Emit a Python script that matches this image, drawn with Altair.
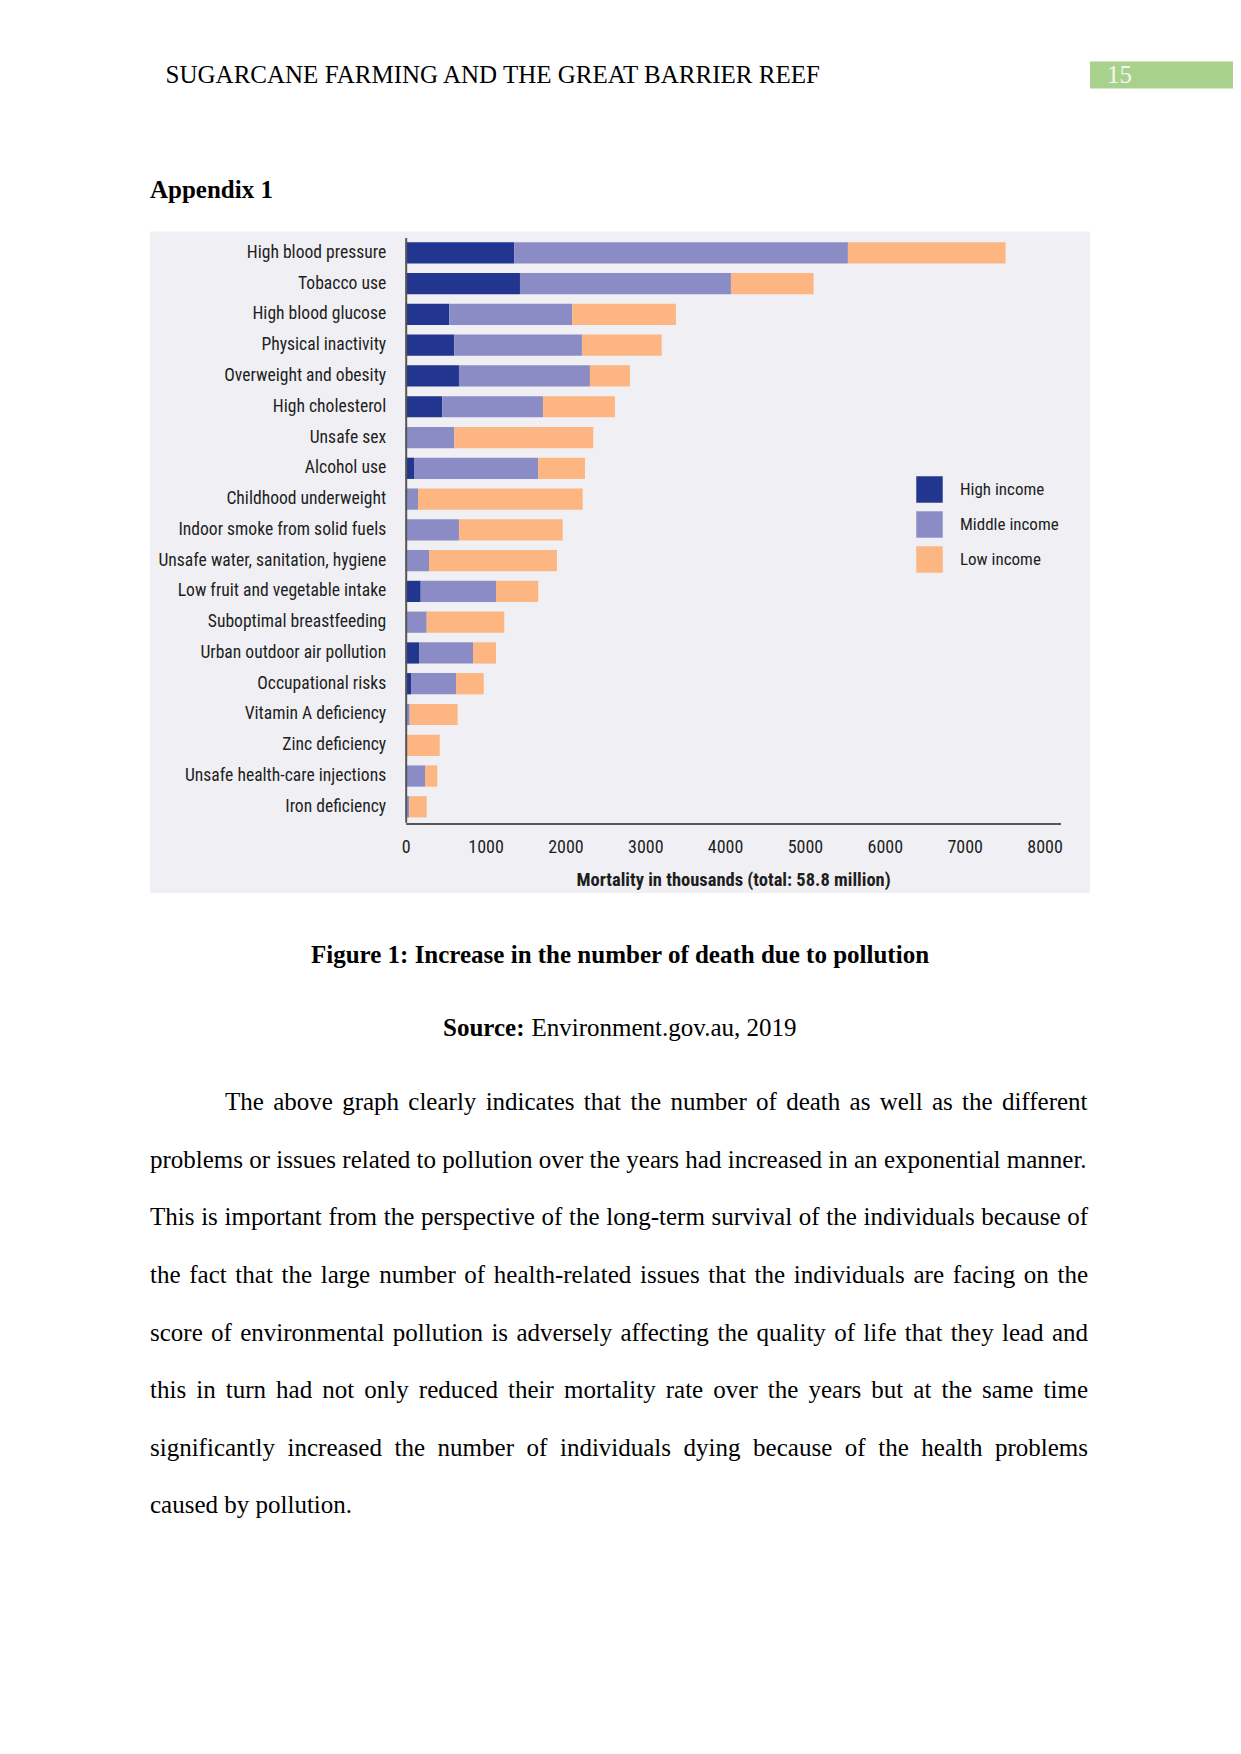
import altair as alt
import pandas as pd

# ---------------- data ----------------
categories = [
    "High blood pressure", "Tobacco use", "High blood glucose", "Physical inactivity",
    "Overweight and obesity", "High cholesterol", "Unsafe sex", "Alcohol use",
    "Childhood underweight", "Indoor smoke from solid fuels",
    "Unsafe water, sanitation, hygiene", "Low fruit and vegetable intake",
    "Suboptimal breastfeeding", "Urban outdoor air pollution", "Occupational risks",
    "Vitamin A deficiency", "Zinc deficiency", "Unsafe health-care injections",
    "Iron deficiency",
]
incomes = ["High income", "Middle income", "Low income"]
high = [1360, 1431, 546, 609, 667, 458, 10, 104, 5, 3, 3, 188, 2, 167, 67, 0, 0, 0, 0]
middle = [4178, 2642, 1540, 1598, 1640, 1261, 599, 1556, 149, 664, 289, 943, 261, 676, 563, 50, 10, 242, 45]
low = [1974, 1035, 1298, 998, 501, 901, 1740, 585, 2062, 1299, 1602, 529, 972, 288, 347, 601, 416, 154, 218]
x_ticks = [0, 1000, 2000, 3000, 4000, 5000, 6000, 7000, 8000]
x_title = "Mortality in thousands (total: 58.8 million)"

header_text = "SUGARCANE FARMING AND THE GREAT BARRIER REEF"
page_number = "15"
appendix_text = "Appendix 1"
caption_text = "Figure 1: Increase in the number of death due to pollution"
source_bold = "Source:"
source_rest = "Environment.gov.au, 2019"
paragraph_lines = [
    "The above graph clearly indicates that the number of death as well as the different",
    "problems or issues related to pollution over the years had increased in an exponential manner.",
    "This is important from the perspective of the long-term survival of the individuals because of",
    "the fact that the large number of health-related issues that the individuals are facing on the",
    "score of environmental pollution is adversely affecting the quality of life that they lead and",
    "this in turn had not only reduced their mortality rate over the years but at the same time",
    "significantly increased the number of individuals dying because of the health problems",
    "caused by pollution.",
]

# ---------------- layout ----------------
W, H = 1225, 1738
NARROW = "Roboto Condensed, DejaVu Sans Condensed, sans-serif"
SERIF = "Liberation Serif, Times New Roman, serif"
colors = ["#22358f", "#8b8cc6", "#fdb581"]

rows = []
for i, c in enumerate(categories):
    for j, vals in enumerate([high, middle, low]):
        rows.append({"cause": c, "income": incomes[j], "value": vals[i], "ord": j})
df = pd.DataFrame(rows)

bg = alt.Chart(pd.DataFrame({"k": [0]})).mark_rect(color="#f0f0f4").encode(
    x=alt.value(142), x2=alt.value(1082), y=alt.value(223.6), y2=alt.value(885)
)
green = alt.Chart(pd.DataFrame({"k": [0]})).mark_rect(color="#a9d18e").encode(
    x=alt.value(1082), x2=alt.value(1225), y=alt.value(53.5), y2=alt.value(80.5)
)

bars = alt.Chart(df).mark_bar().encode(
    x=alt.X(
        "value:Q", stack="zero",
        scale=alt.Scale(domain=[0, 8200], range=[397.7, 1052.5], nice=False),
        axis=alt.Axis(
            values=x_ticks, title=x_title, ticks=False, grid=False, format="d",
            domainColor="#555555", domainWidth=2, labelFont=NARROW, labelFontSize=18,
            labelColor="#1e1e1e", labelPadding=15, labelFlush=False,
            titleFont=NARROW, titleFontSize=18.5, titleFontWeight="bold",
            titleColor="#1e1e1e", titlePadding=13.5, offset=815.5 - H, zindex=1,
        ),
    ),
    y=alt.Y(
        "cause:N", sort=categories,
        scale=alt.Scale(range=[229.5, 814.2], paddingInner=0.31, paddingOuter=0.155),
        axis=alt.Axis(
            title=None, ticks=False, grid=False, domainColor="#555555", domainWidth=2,
            labelFont=NARROW, labelFontSize=17.6, labelColor="#1e1e1e",
            labelPadding=20, labelLimit=400, offset=-397.7, zindex=1,
        ),
    ),
    color=alt.Color(
        "income:N",
        scale=alt.Scale(domain=incomes, range=colors),
        legend=alt.Legend(
            orient="none", legendX=908, legendY=468, title=None, symbolType="square",
            symbolSize=700, symbolStrokeWidth=0, labelFont=NARROW, labelFontSize=17,
            labelColor="#1e1e1e", rowPadding=8, labelOffset=17, padding=0,
            symbolOpacity=1,
        ),
    ),
    order=alt.Order("ord:Q", sort="ascending"),
)

# ---------------- page text ----------------
AFM = {
    " ": 250, ".": 250, ",": 250, "-": 333, ":": 278,
    "a": 444, "b": 500, "c": 444, "d": 500, "e": 444, "f": 333, "g": 500, "h": 500,
    "i": 278, "j": 278, "k": 500, "l": 278, "m": 778, "n": 500, "o": 500, "p": 500,
    "q": 500, "r": 333, "s": 389, "t": 278, "u": 500, "v": 500, "w": 722, "x": 500,
    "y": 500, "z": 444, "T": 611,
}


def word_width(w, size=25):
    return sum(AFM.get(ch, 500) for ch in w) * size / 1000.0


para_rows = []
left, right = 142.0, 1080.0
base0, lead = 1102.2, 57.6
for li, line in enumerate(paragraph_lines):
    words = line.split(" ")
    y = base0 + li * lead
    start = 217.0 if li == 0 else left
    widths = [word_width(w) for w in words]
    if li == len(paragraph_lines) - 1:
        gap = word_width(" ")
    else:
        gap = (right - start - sum(widths)) / (len(words) - 1)
    x = start
    for w, wd in zip(words, widths):
        para_rows.append({"text": w, "x": x, "y": y})
        x += wd + gap

normal_rows = para_rows + [
    {"text": header_text, "x": 157.6, "y": 75.0},
    {"text": source_rest, "x": 523.5, "y": 1028.4},
]
bold_rows = [
    {"text": appendix_text, "x": 142.0, "y": 190.0},
    {"text": source_bold, "x": 435.0, "y": 1028.4},
]


def text_layer(rows_, **kw):
    return alt.Chart(pd.DataFrame(rows_)).mark_text(
        baseline="alphabetic", font=SERIF, fontSize=25, **kw
    ).encode(
        x=alt.X("x:Q", scale=None, axis=None),
        y=alt.Y("y:Q", scale=None, axis=None),
        text="text:N",
    )


t_normal = text_layer(normal_rows, align="left", color="#000000")
t_bold = text_layer(bold_rows, align="left", color="#000000", fontWeight="bold")
t_caption = text_layer([{"text": caption_text, "x": 612.0, "y": 954.5}],
                       align="center", color="#000000", fontWeight="bold")
t_page = text_layer([{"text": page_number, "x": 1099.0, "y": 75.3}],
                    align="left", color="#f3f8ee")

chart = alt.layer(bg, green, bars, t_normal, t_bold, t_caption, t_page).resolve_scale(
    x="independent", y="independent"
).properties(
    width=W, height=H, autosize=alt.AutoSizeParams(type="none"), padding=0,
    background="#ffffff",
).configure_view(strokeWidth=0)

chart.save("out.html", embed_options={"renderer": "svg", "actions": False})
